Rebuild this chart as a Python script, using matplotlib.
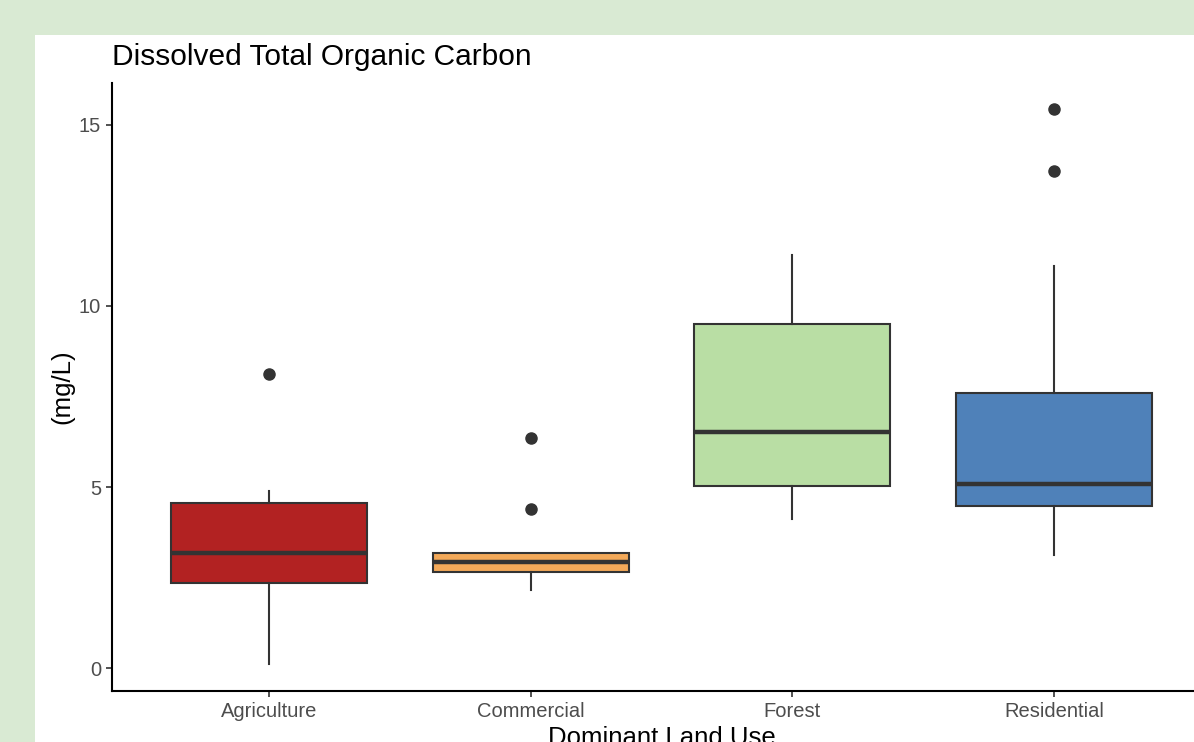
import matplotlib.pyplot as plt
from matplotlib.patches import Rectangle

plt.rcParams['font.family'] = ['Liberation Sans', 'DejaVu Sans']

# summary statistics per land use class (mg/L)
land_use = ['Agriculture', 'Commercial', 'Forest', 'Residential']
whisker_low = [0.11, 2.15, 4.12, 3.11]
q1 = [2.35, 2.66, 5.03, 4.48]
median = [3.18, 2.93, 6.51, 5.07]
q3 = [4.56, 3.19, 9.49, 7.61]
whisker_high = [4.89, 3.19, 11.41, 11.10]
outliers = [[8.12], [4.39, 6.35], [], [15.44, 13.73]]
box_colors = ['#b22222', '#f3a959', '#b9dea4', '#4f81b9']
y_ticks = [0, 5, 10, 15]

W, H = 1194, 742
fig = plt.figure(figsize=(W / 100, H / 100), dpi=100)
fig.patch.set_facecolor('#d9ead3')

# white plot panel on the green page
fig.patches.append(Rectangle((35 / W, 0), 1, 1 - 35 / H, transform=fig.transFigure,
                             facecolor='white', edgecolor='none', zorder=-10))

ax = fig.add_axes([112 / W, 1 - 691 / H, (1211 - 112) / W, (691 - 83) / H])
ax.set_facecolor('white')

stats = []
for i, name in enumerate(land_use):
    stats.append({'label': name, 'whislo': whisker_low[i], 'q1': q1[i], 'med': median[i],
                  'q3': q3[i], 'whishi': whisker_high[i], 'fliers': outliers[i]})

bp = ax.bxp(stats, positions=range(1, len(land_use) + 1), widths=0.75, patch_artist=True,
            showcaps=False,
            boxprops=dict(edgecolor='#333333', linewidth=1.5),
            medianprops=dict(color='#333333', linewidth=3.2, solid_capstyle='butt'),
            whiskerprops=dict(color='#333333', linewidth=1.5),
            flierprops=dict(marker='o', markerfacecolor='#333333', markeredgecolor='#333333',
                            markersize=8))
for patch, c in zip(bp['boxes'], box_colors):
    patch.set_facecolor(c)

ax.set_xlim(0.4, 4.6)
ax.set_ylim(-0.635, 16.16)
ax.set_yticks(y_ticks)
ax.set_xticks(range(1, len(land_use) + 1))
ax.set_xticklabels(land_use)

for side in ['top', 'right']:
    ax.spines[side].set_visible(False)
for side in ['left', 'bottom']:
    ax.spines[side].set_linewidth(1.5)
    ax.spines[side].set_color('black')
ax.tick_params(axis='both', length=4, width=1.2, color='#333333', labelcolor='#4d4d4d',
               labelsize=14.5, pad=4)

ax.set_title('Dissolved Total Organic Carbon', loc='left', fontsize=21.5, color='black', pad=13)
ax.set_ylabel('(mg/L)', fontsize=18.5, color='black')
ax.yaxis.set_label_coords(-(112 - 62) / (1211 - 112), 0.5)
ax.yaxis.label.set_va('center')
# x title sits just below the tick labels, running off the bottom edge
ax.set_xlabel('Dominant Land Use', fontsize=18.5, color='black')
ax.xaxis.set_label_coords((662 - 112) / (1211 - 112), -(726 - 691) / (691 - 83))
ax.xaxis.label.set_va('top')

fig.savefig('out.png', dpi=100, facecolor=fig.get_facecolor())
